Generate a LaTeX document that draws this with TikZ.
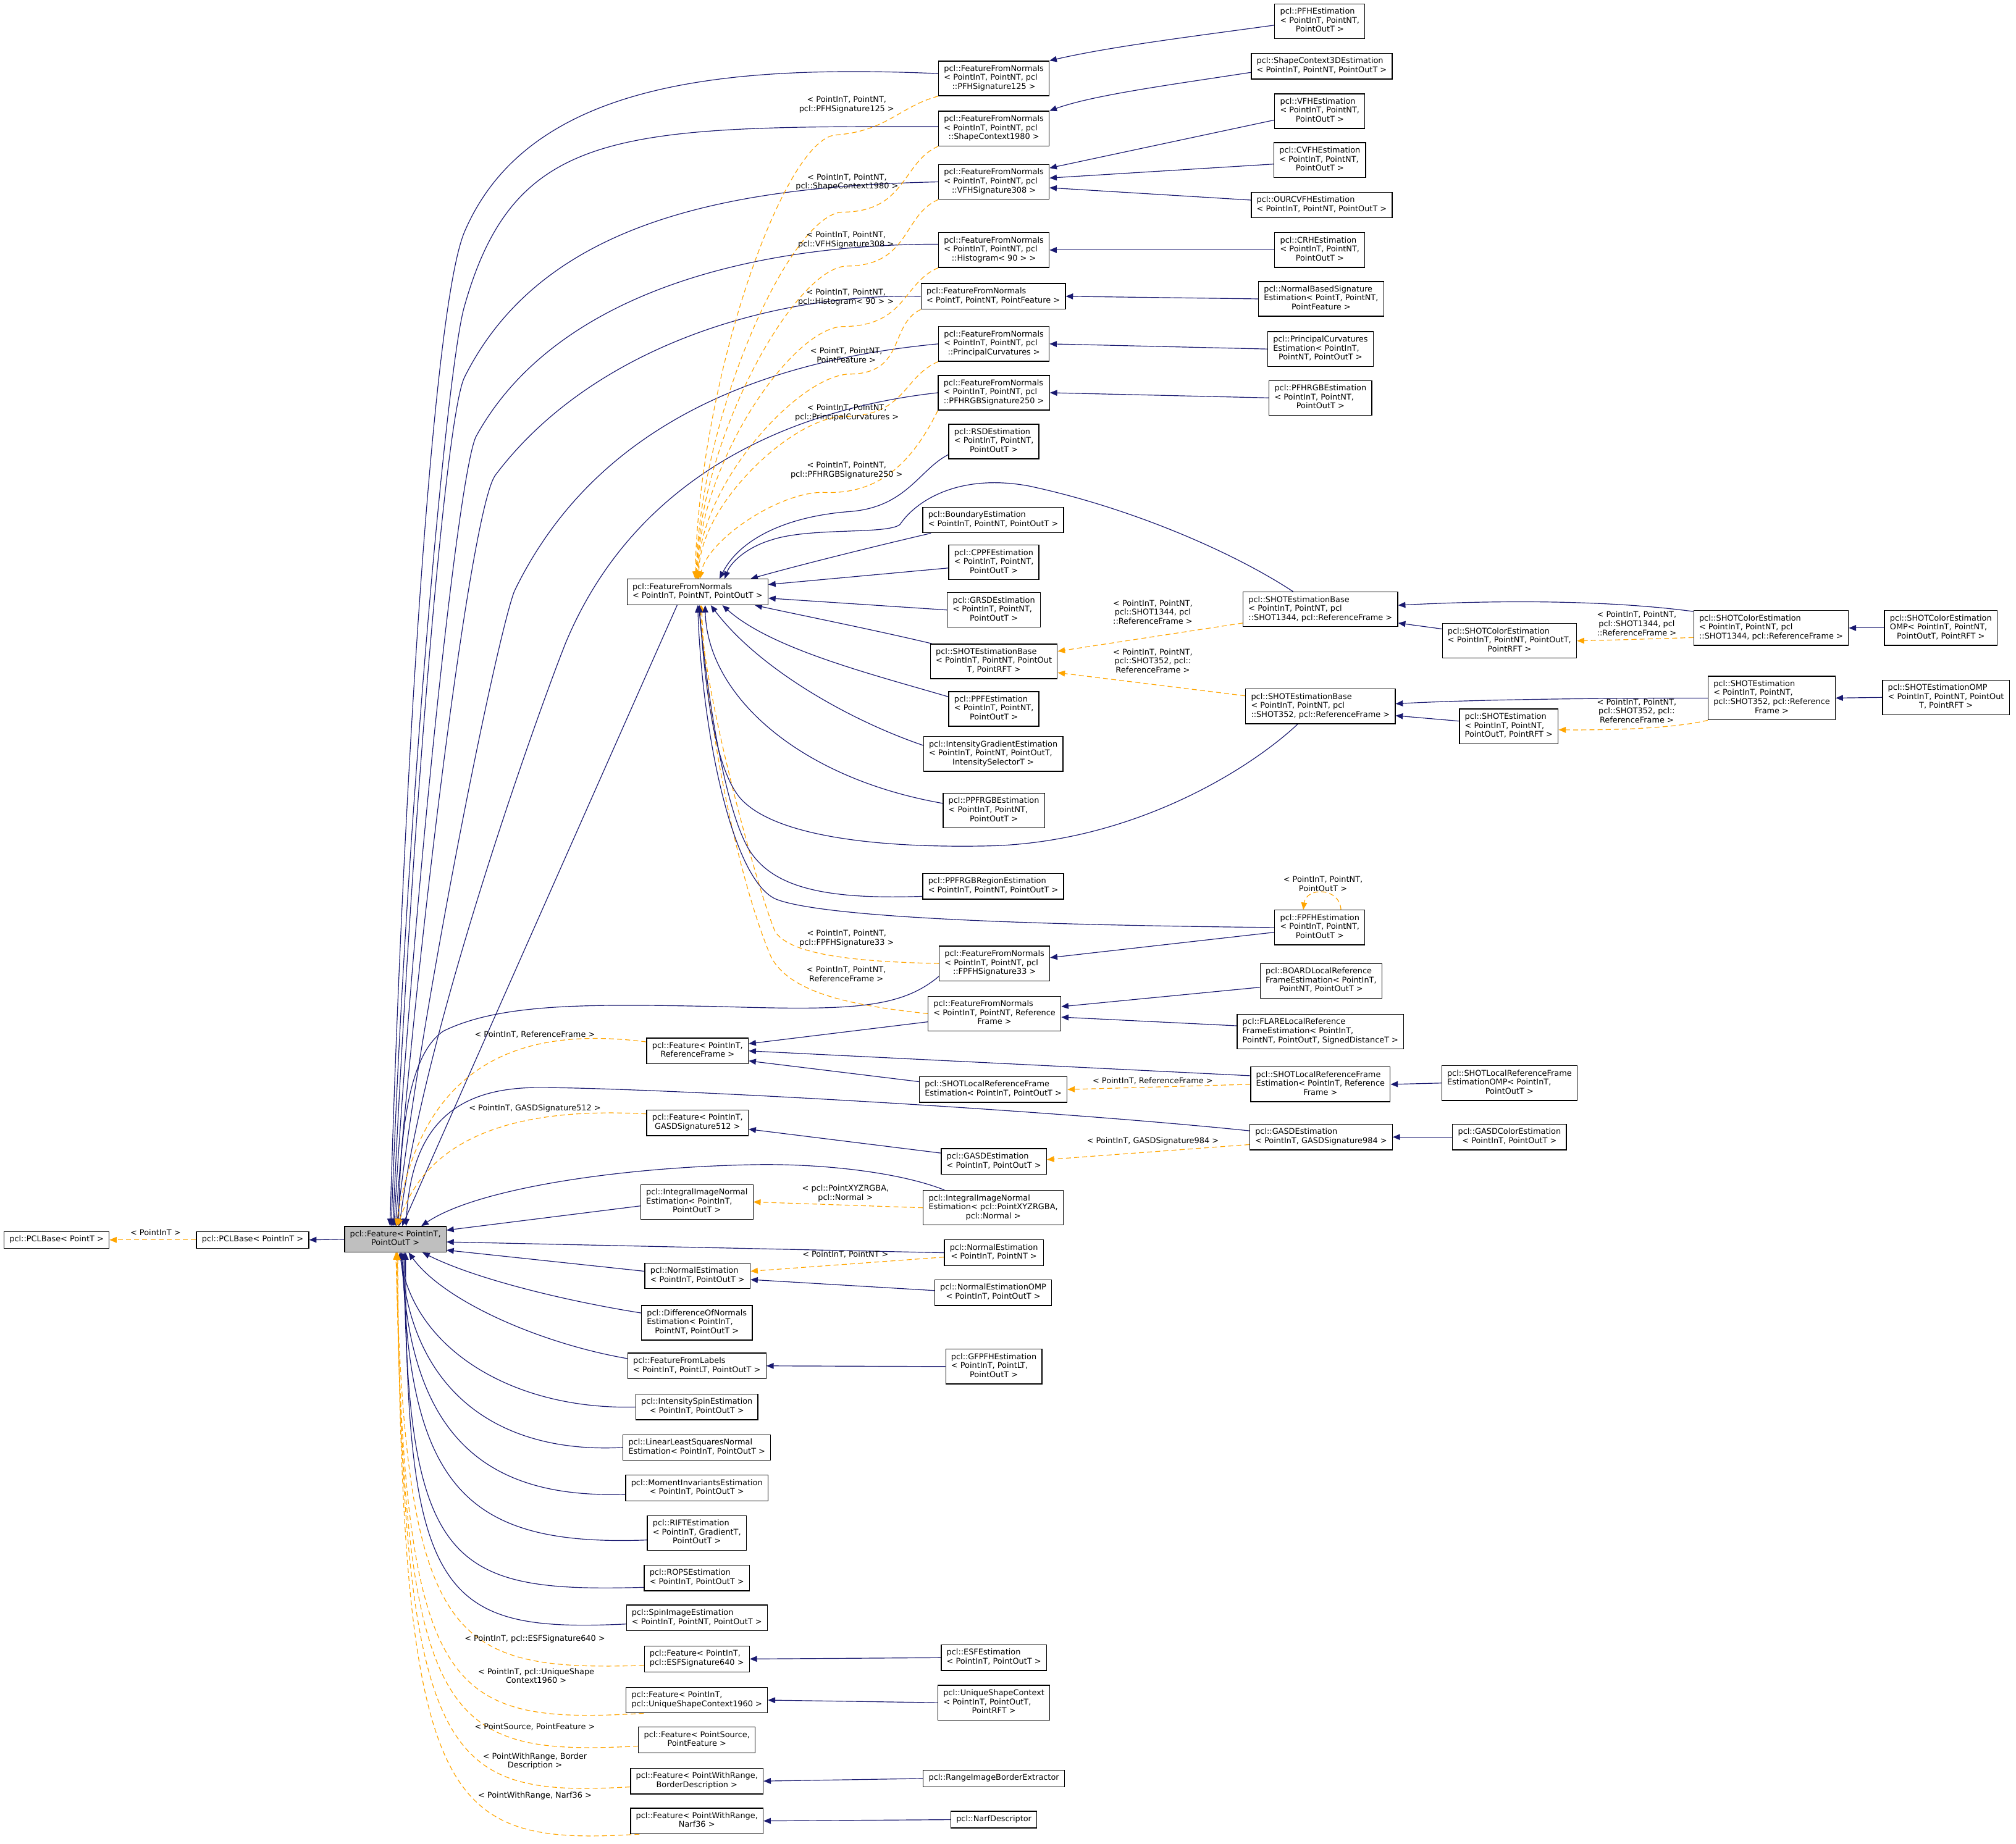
\documentclass[tikz,border=0pt]{standalone}
\usepackage{fontspec}
\setmainfont{DejaVu Sans}
\usetikzlibrary{arrows.meta,backgrounds}
\definecolor{edgeblue}{HTML}{191970}
\definecolor{tplorange}{HTML}{FFA500}
\definecolor{basegray}{HTML}{BFBFBF}
\newcommand{\dxfont}{\fontsize{8.8}{10}\selectfont}
\newcommand{\boxtxt}[2]{\begin{tabular}{@{}l@{}}#1\\\multicolumn{1}{@{}c@{}}{#2}\end{tabular}}
\newcommand{\boxone}[1]{\begin{tabular}{@{}c@{}}#1\end{tabular}}
\tikzset{
  klass/.style={draw=black, line width=0.9pt, fill=white, font=\dxfont, inner xsep=6pt, inner ysep=4.2pt},
  rootklass/.style={klass, fill=basegray},
  inh/.style={edgeblue, line width=0.8pt, -{Triangle[length=8pt,width=6.5pt]}},
  tpl/.style={tplorange, line width=0.8pt, dash pattern=on 5.5pt off 3.5pt, -{Triangle[length=8pt,width=6.5pt]}},
  targ/.style={font=\dxfont, align=center, inner sep=0pt}
}
\begin{document}
\begin{tikzpicture}[x=0.05cm,y=-0.05cm]
\useasboundingbox (0,0) rectangle (1568,1434);

% classes
\node[klass] (PCLBaseT) at (44,964.5) {\boxone{pcl::PCLBase< PointT >}};
\node[klass] (PCLBaseIn) at (196.5,964.5) {\boxone{pcl::PCLBase< PointInT >}};
\node[rootklass] (Feature) at (307.5,964) {\boxtxt{pcl::Feature< PointInT,}{PointOutT >}};

\node[klass] (FFN) at (542.5,460.5) {\boxtxt{pcl::FeatureFromNormals}{< PointInT, PointNT, PointOutT >}};
\node[klass] (FeatRF) at (542.5,817.5) {\boxtxt{pcl::Feature< PointInT,}{ReferenceFrame >}};
\node[klass] (FeatG512) at (542.5,873.5) {\boxtxt{pcl::Feature< PointInT,}{GASDSignature512 >}};
\node[klass] (IINE) at (542,935) {\boxtxt{pcl::IntegralImageNormal\\Estimation< PointInT,}{PointOutT >}};
\node[klass] (NE) at (542.5,992.5) {\boxtxt{pcl::NormalEstimation}{< PointInT, PointOutT >}};
\node[klass] (DoN) at (542,1029) {\boxtxt{pcl::DifferenceOfNormals\\Estimation< PointInT,}{PointNT, PointOutT >}};
\node[klass] (FFL) at (542,1062.5) {\boxtxt{pcl::FeatureFromLabels}{< PointInT, PointLT, PointOutT >}};
\node[klass] (ISE) at (542,1094.5) {\boxtxt{pcl::IntensitySpinEstimation}{< PointInT, PointOutT >}};
\node[klass] (LLSNE) at (542,1126) {\boxtxt{pcl::LinearLeastSquaresNormal}{Estimation< PointInT, PointOutT >}};
\node[klass] (MIE) at (542,1157.5) {\boxtxt{pcl::MomentInvariantsEstimation}{< PointInT, PointOutT >}};
\node[klass] (RIFT) at (542,1192.5) {\boxtxt{pcl::RIFTEstimation\\< PointInT, GradientT,}{PointOutT >}};
\node[klass] (ROPS) at (542,1227.5) {\boxtxt{pcl::ROPSEstimation}{< PointInT, PointOutT >}};
\node[klass] (SpinImg) at (542,1258.5) {\boxtxt{pcl::SpinImageEstimation}{< PointInT, PointNT, PointOutT >}};
\node[klass] (FeatESF) at (542,1290.5) {\boxtxt{pcl::Feature< PointInT,}{pcl::ESFSignature640 >}};
\node[klass] (FeatUSC) at (542,1322.5) {\boxtxt{pcl::Feature< PointInT,}{pcl::UniqueShapeContext1960 >}};
\node[klass] (FeatPS) at (542,1353.5) {\boxtxt{pcl::Feature< PointSource,}{PointFeature >}};
\node[klass] (FeatBD) at (542,1385.5) {\boxtxt{pcl::Feature< PointWithRange,}{BorderDescription >}};
\node[klass] (FeatNarf) at (542,1416.5) {\boxtxt{pcl::Feature< PointWithRange,}{Narf36 >}};

\node[klass] (FFNpfh) at (773,61) {\boxtxt{pcl::FeatureFromNormals\\< PointInT, PointNT, pcl}{::PFHSignature125 >}};
\node[klass] (FFNsc) at (773,100) {\boxtxt{pcl::FeatureFromNormals\\< PointInT, PointNT, pcl}{::ShapeContext1980 >}};
\node[klass] (FFNvfh) at (773,141.5) {\boxtxt{pcl::FeatureFromNormals\\< PointInT, PointNT, pcl}{::VFHSignature308 >}};
\node[klass] (FFNhist) at (773,194.5) {\boxtxt{pcl::FeatureFromNormals\\< PointInT, PointNT, pcl}{::Histogram< 90 > >}};
\node[klass] (FFNpf) at (772.5,230.5) {\boxtxt{pcl::FeatureFromNormals}{< PointT, PointNT, PointFeature >}};
\node[klass] (FFNpc) at (773,267.5) {\boxtxt{pcl::FeatureFromNormals\\< PointInT, PointNT, pcl}{::PrincipalCurvatures >}};
\node[klass] (FFNrgb) at (773,305.5) {\boxtxt{pcl::FeatureFromNormals\\< PointInT, PointNT, pcl}{::PFHRGBSignature250 >}};
\node[klass] (RSD) at (773,343.5) {\boxtxt{pcl::RSDEstimation\\< PointInT, PointNT,}{PointOutT >}};
\node[klass] (Boundary) at (772.5,404.5) {\boxtxt{pcl::BoundaryEstimation}{< PointInT, PointNT, PointOutT >}};
\node[klass] (CPPF) at (773,437.5) {\boxtxt{pcl::CPPFEstimation\\< PointInT, PointNT,}{PointOutT >}};
\node[klass] (GRSD) at (773,474.5) {\boxtxt{pcl::GRSDEstimation\\< PointInT, PointNT,}{PointOutT >}};
\node[klass] (SHOTBase) at (773,514.5) {\boxtxt{pcl::SHOTEstimationBase\\< PointInT, PointNT, PointOut}{T, PointRFT >}};
\node[klass] (PPF) at (773,551.5) {\boxtxt{pcl::PPFEstimation\\< PointInT, PointNT,}{PointOutT >}};
\node[klass] (IGE) at (772.5,586.5) {\boxtxt{pcl::IntensityGradientEstimation\\< PointInT, PointNT, PointOutT,}{IntensitySelectorT >}};
\node[klass] (PPFRGB) at (773,630.5) {\boxtxt{pcl::PPFRGBEstimation\\< PointInT, PointNT,}{PointOutT >}};
\node[klass] (PPFRGBReg) at (772.5,689.5) {\boxtxt{pcl::PPFRGBRegionEstimation}{< PointInT, PointNT, PointOutT >}};
\node[klass] (FFNfpfh) at (773.5,749.5) {\boxtxt{pcl::FeatureFromNormals\\< PointInT, PointNT, pcl}{::FPFHSignature33 >}};
\node[klass] (FFNrf) at (773.5,788.5) {\boxtxt{pcl::FeatureFromNormals\\< PointInT, PointNT, Reference}{Frame >}};
\node[klass] (SHOTLRF) at (772.5,847.5) {\boxtxt{pcl::SHOTLocalReferenceFrame}{Estimation< PointInT, PointOutT >}};
\node[klass] (GASD) at (773,903.5) {\boxtxt{pcl::GASDEstimation}{< PointInT, PointOutT >}};
\node[klass] (IINErgba) at (772.5,939.5) {\boxtxt{pcl::IntegralImageNormal\\Estimation< pcl::PointXYZRGBA,}{pcl::Normal >}};
\node[klass] (NEnt) at (773,974.5) {\boxtxt{pcl::NormalEstimation}{< PointInT, PointNT >}};
\node[klass] (NEomp) at (772.5,1005.5) {\boxtxt{pcl::NormalEstimationOMP}{< PointInT, PointOutT >}};
\node[klass] (GFPFH) at (773,1063) {\boxtxt{pcl::GFPFHEstimation\\< PointInT, PointLT,}{PointOutT >}};
\node[klass] (ESF) at (773,1289.5) {\boxtxt{pcl::ESFEstimation}{< PointInT, PointOutT >}};
\node[klass] (USC) at (773,1324.5) {\boxtxt{pcl::UniqueShapeContext\\< PointInT, PointOutT,}{PointRFT >}};
\node[klass] (RIBE) at (773,1383.5) {\boxone{pcl::RangeImageBorderExtractor}};
\node[klass] (Narf) at (773,1415.5) {\boxone{pcl::NarfDescriptor}};

\node[klass] (PFH) at (1026.5,16.5) {\boxtxt{pcl::PFHEstimation\\< PointInT, PointNT,}{PointOutT >}};
\node[klass] (SC3D) at (1028,51.5) {\boxtxt{pcl::ShapeContext3DEstimation}{< PointInT, PointNT, PointOutT >}};
\node[klass] (VFH) at (1026.5,86.5) {\boxtxt{pcl::VFHEstimation\\< PointInT, PointNT,}{PointOutT >}};
\node[klass] (CVFH) at (1026.5,124.5) {\boxtxt{pcl::CVFHEstimation\\< PointInT, PointNT,}{PointOutT >}};
\node[klass] (OURCVFH) at (1028,159.5) {\boxtxt{pcl::OURCVFHEstimation}{< PointInT, PointNT, PointOutT >}};
\node[klass] (CRH) at (1026.5,194.5) {\boxtxt{pcl::CRHEstimation\\< PointInT, PointNT,}{PointOutT >}};
\node[klass] (NBS) at (1027.5,232.5) {\boxtxt{pcl::NormalBasedSignature\\Estimation< PointT, PointNT,}{PointFeature >}};
\node[klass] (PCE) at (1027,271.5) {\boxtxt{pcl::PrincipalCurvatures\\Estimation< PointInT,}{PointNT, PointOutT >}};
\node[klass] (PFHRGB) at (1027,309.5) {\boxtxt{pcl::PFHRGBEstimation\\< PointInT, PointNT,}{PointOutT >}};
\node[klass] (SHOTB1344) at (1027,474) {\boxtxt{pcl::SHOTEstimationBase\\< PointInT, PointNT, pcl}{::SHOT1344, pcl::ReferenceFrame >}};
\node[klass] (SHOTB352) at (1027,549.5) {\boxtxt{pcl::SHOTEstimationBase\\< PointInT, PointNT, pcl}{::SHOT352, pcl::ReferenceFrame >}};
\node[klass] (FPFH) at (1026.5,721.5) {\boxtxt{pcl::FPFHEstimation\\< PointInT, PointNT,}{PointOutT >}};
\node[klass] (BOARD) at (1027.5,763) {\boxtxt{pcl::BOARDLocalReference\\FrameEstimation< PointInT,}{PointNT, PointOutT >}};
\node[klass] (FLARE) at (1027,802.5) {\boxtxt{pcl::FLARELocalReference\\FrameEstimation< PointInT,}{PointNT, PointOutT, SignedDistanceT >}};
\node[klass] (SHOTLRFrf) at (1027,843.5) {\boxtxt{pcl::SHOTLocalReferenceFrame\\Estimation< PointInT, Reference}{Frame >}};
\node[klass] (GASD984) at (1027.5,884.5) {\boxtxt{pcl::GASDEstimation}{< PointInT, GASDSignature984 >}};

\node[klass] (SHOTColor) at (1174,498.5) {\boxtxt{pcl::SHOTColorEstimation\\< PointInT, PointNT, PointOutT,}{PointRFT >}};
\node[klass] (SHOTEst) at (1173.5,565) {\boxtxt{pcl::SHOTEstimation\\< PointInT, PointNT,}{PointOutT, PointRFT >}};
\node[klass] (SHOTLRFomp) at (1174,842.5) {\boxtxt{pcl::SHOTLocalReferenceFrame\\EstimationOMP< PointInT,}{PointOutT >}};
\node[klass] (GASDColor) at (1174,884.5) {\boxtxt{pcl::GASDColorEstimation}{< PointInT, PointOutT >}};
\node[klass] (SHOTC1344) at (1377.5,488.5) {\boxtxt{pcl::SHOTColorEstimation\\< PointInT, PointNT, pcl}{::SHOT1344, pcl::ReferenceFrame >}};
\node[klass] (SHOT352) at (1378,543) {\boxtxt{pcl::SHOTEstimation\\< PointInT, PointNT,\\pcl::SHOT352, pcl::Reference}{Frame >}};
\node[klass] (SHOTComp) at (1509.5,488.5) {\boxtxt{pcl::SHOTColorEstimation\\OMP< PointInT, PointNT,}{PointOutT, PointRFT >}};
\node[klass] (SHOTomp) at (1513.5,542.5) {\boxtxt{pcl::SHOTEstimationOMP\\< PointInT, PointNT, PointOut}{T, PointRFT >}};

% template arguments
\node[targ] (aPCL) at (121,958.5) {< PointInT >};
\node[targ] (aPFH) at (658.5,81.5) {< PointInT, PointNT,\\pcl::PFHSignature125 >};
\node[targ] (aSC) at (658.8,141.7) {< PointInT, PointNT,\\pcl::ShapeContext1980 >};
\node[targ] (aVFH) at (658,186.5) {< PointInT, PointNT,\\pcl::VFHSignature308 >};
\node[targ] (aHist) at (658,231.3) {< PointInT, PointNT,\\pcl::Histogram< 90 > >};
\node[targ] (aPF) at (658.2,276.2) {< PointT, PointNT,\\PointFeature >};
\node[targ] (aPC) at (658.7,321) {< PointInT, PointNT,\\pcl::PrincipalCurvatures >};
\node[targ] (aRGB) at (658.5,365.8) {< PointInT, PointNT,\\pcl::PFHRGBSignature250 >};
\node[targ] (aB1344) at (896.6,476) {< PointInT, PointNT,\\pcl::SHOT1344, pcl\\::ReferenceFrame >};
\node[targ] (aB352) at (896.6,514) {< PointInT, PointNT,\\pcl::SHOT352, pcl::\\ReferenceFrame >};
\node[targ] (aC1344) at (1273,485) {< PointInT, PointNT,\\pcl::SHOT1344, pcl\\::ReferenceFrame >};
\node[targ] (aS352) at (1273,553) {< PointInT, PointNT,\\pcl::SHOT352, pcl::\\ReferenceFrame >};
\node[targ] (aLoop) at (1029,687.5) {< PointInT, PointNT,\\PointOutT >};
\node[targ] (aFPFH) at (658.5,729.8) {< PointInT, PointNT,\\pcl::FPFHSignature33 >};
\node[targ] (aFRF) at (658.2,757.6) {< PointInT, PointNT,\\ReferenceFrame >};
\node[targ] (aRF) at (416,804.6) {< PointInT, ReferenceFrame >};
\node[targ] (aLRF) at (896.6,841) {< PointInT, ReferenceFrame >};
\node[targ] (aG512) at (416,862.5) {< PointInT, GASDSignature512 >};
\node[targ] (aG984) at (896.6,887.7) {< PointInT, GASDSignature984 >};
\node[targ] (aRGBA) at (657.6,928.2) {< pcl::PointXYZRGBA,\\pcl::Normal >};
\node[targ] (aNT) at (657.6,976) {< PointInT, PointNT >};
\node[targ] (aESF) at (416,1275) {< PointInT, pcl::ESFSignature640 >};
\node[targ] (aUSC) at (417,1303.6) {< PointInT, pcl::UniqueShape\\Context1960 >};
\node[targ] (aPS) at (416,1343.4) {< PointSource, PointFeature >};
\node[targ] (aBD) at (416,1370) {< PointWithRange, Border\\Description >};
\node[targ] (aNarf) at (416,1397) {< PointWithRange, Narf36 >};

\begin{scope}[on background layer]
\fill[white] (0,0) rectangle (1568,1434);
\draw[tpl] (PCLBaseIn.west) -- (PCLBaseT.east);
\draw[inh] (Feature.west) -- (PCLBaseIn.east);

% into Feature, from above
\draw[inh] (FFNpfh.175) .. controls (560,50) and (410,65) .. (361,181) .. controls (335,245) and (312,650) .. (Feature.112);
\draw[inh] (FFNsc.178) .. controls (480,98) and (400,100) .. (361,239) .. controls (347,289) and (315,650) .. (Feature.107);
\draw[inh] (FFNvfh.west) .. controls (560,145) and (420,175) .. (361,294) .. controls (345,330) and (318,680) .. (Feature.101);
\draw[inh] (FFNhist.174) .. controls (580,190) and (430,230) .. (370,340) .. controls (355,375) and (320,720) .. (Feature.96);
\draw[inh] (FFNpf.west) .. controls (600,228) and (460,270) .. (385,370) .. controls (365,400) and (322,760) .. (Feature.90);
\draw[inh] (FFNpc.west) .. controls (620,278) and (470,315) .. (400,460) .. controls (385,500) and (325,800) .. (Feature.84);
\draw[inh] (FFNrgb.west) .. controls (600,320) and (490,380) .. (440,500) .. controls (420,550) and (330,800) .. (Feature.73);
\draw[inh] (FFN.213) -- (Feature.63);
\draw[inh] (FFNfpfh.193) .. controls (700,785) and (660,786) .. (560,783) .. controls (460,781) and (390,780) .. (345,802) .. controls (318,820) and (311,880) .. (Feature.76);
\draw[inh] (GASD984.175) .. controls (800,862) and (500,846) .. (419,846) .. controls (360,846) and (320,870) .. (Feature.51);
\draw[inh] (IINErgba.160) .. controls (700,912) and (640,905) .. (586,906) .. controls (480,908) and (370,925) .. (Feature.27);
\draw[tpl] (FeatRF.170) .. controls (420,800) and (330,815) .. (Feature.86);
\draw[tpl] (FeatG512.170) .. controls (420,862) and (335,875) .. (Feature.80);

% into Feature, from the right and below
\draw[inh] (IINE.184) -- (Feature.10);
\draw[inh] (NEnt.west) -- (Feature.357);
\draw[inh] (NE.175) -- (Feature.348);
\draw[inh] (DoN.170) .. controls (440,1012) and (370,995) .. (Feature.334);
\draw[inh] (FFL.174) .. controls (420,1045) and (345,1012) .. (Feature.315);
\draw[inh] (ISE.west) .. controls (400,1097) and (322,1050) .. (Feature.288);
\draw[inh] (LLSNE.west) .. controls (390,1131) and (320,1085) .. (Feature.292);
\draw[inh] (MIE.185) .. controls (380,1166) and (318,1120) .. (Feature.296);
\draw[inh] (RIFT.188) .. controls (365,1203) and (317,1160) .. (Feature.300);
\draw[inh] (ROPS.190) .. controls (350,1239) and (316,1220) .. (Feature.304);
\draw[inh] (SpinImg.185) .. controls (345,1270) and (315,1245) .. (Feature.308);
\draw[tpl] (FeatESF.187) .. controls (350,1300) and (316,1280) .. (Feature.272);
\draw[tpl] (FeatUSC.194) .. controls (345,1342) and (314,1320) .. (Feature.274);
\draw[tpl] (FeatPS.186) .. controls (345,1366) and (313,1345) .. (Feature.276);
\draw[tpl] (FeatBD.185) .. controls (345,1398) and (313,1375) .. (Feature.278);
\draw[tpl] (FeatNarf.193) .. controls (345,1436) and (312,1410) .. (Feature.280);

% into FeatureFromNormals
\draw[tpl] (FFNpfh.south west) .. controls +(-30,8) and +(40,-3) .. (650,105) .. controls +(-40,3) and +(3,-156) .. (FFN.100);
\draw[tpl] (FFNsc.south west) .. controls +(-28,12) and +(50,0) .. (655,165) .. controls +(-40,2) and +(3,-129) .. (FFN.96);
\draw[tpl] (FFNvfh.south west) .. controls +(-28,12) and +(50,0) .. (658,207) .. controls +(-40,2) and +(2,-110) .. (FFN.93);
\draw[tpl] (FFNhist.south west) .. controls +(-28,12) and +(50,0) .. (655,254) .. controls +(-40,2) and +(1,-89) .. (FFN.90);
\draw[tpl] (FFNpf.south west) .. controls +(-25,12) and +(45,0) .. (660,291) .. controls +(-40,2) and +(0,-72) .. (FFN.87);
\draw[tpl] (FFNpc.south west) .. controls +(-28,12) and +(50,0) .. (655,324) .. controls +(-40,2) and +(0,-57) .. (FFN.84);
\draw[tpl] (FFNrgb.south west) .. controls +(-22,45) and +(40,2) .. (640,383) .. controls +(-35,0) and +(6,-30) .. (FFN.80);
\draw[tpl] (FFNfpfh.west) .. controls (660,748) and (615,742) .. (603,725) .. controls (590,695) and (547,540) .. (FFN.283);
\draw[tpl] (FFNrf.west) .. controls (660,782) and (615,772) .. (600,745) .. controls (580,700) and (550,580) .. (FFN.287);
\draw[inh] (RSD.196) .. controls (715,365) and (705,395) .. (660,398) .. controls (610,402) and (575,420) .. (FFN.31);
\draw[inh] (SHOTB1344.147) .. controls (960,430) and (880,395) .. (800,378) .. controls (745,368) and (712,390) .. (700,408) .. controls (690,416) and (630,410) .. (600,420) .. controls (580,426) and (568,438) .. (FFN.26);
\draw[inh] (Boundary.192) .. controls (680,425) and (620,440) .. (FFN.14);
\draw[inh] (CPPF.187) -- (FFN.6);
\draw[inh] (GRSD.west) -- (FFN.355);
\draw[inh] (SHOTBase.164) .. controls (680,490) and (620,478) .. (FFN.347);
\draw[inh] (PPF.165) .. controls (680,525) and (600,505) .. (FFN.332);
\draw[inh] (IGE.173) .. controls (660,560) and (590,520) .. (FFN.315);
\draw[inh] (PPFRGB.172) .. controls (620,605) and (550,540) .. (FFN.300);
\draw[inh] (SHOTB352.218) .. controls (970,600) and (880,655) .. (770,658) .. controls (680,660) and (600,650) .. (575,620) .. controls (555,595) and (548,530) .. (FFN.278);
\draw[inh] (PPFRGBReg.188) .. controls (640,700) and (600,690) .. (582,660) .. controls (562,625) and (549,530) .. (FFN.275);
\draw[inh] (FPFH.west) .. controls (850,720) and (650,716) .. (605,700) .. controls (570,688) and (546,570) .. (FFN.271);

% third column into second
\draw[inh] (PFH.185) .. controls (930,28) and (865,36) .. (FFNpfh.north east);
\draw[inh] (SC3D.185) .. controls (910,66) and (850,74) .. (FFNsc.north east);
\draw[inh] (VFH.191) -- (FFNvfh.14);
\draw[inh] (CVFH.185) -- (FFNvfh.4);
\draw[inh] (OURCVFH.176) -- (FFNvfh.354);
\draw[inh] (CRH.west) -- (FFNhist.east);
\draw[inh] (NBS.west) -- (FFNpf.east);
\draw[inh] (PCE.west) -- (FFNpc.east);
\draw[inh] (PFHRGB.west) -- (FFNrgb.east);
\draw[tpl] (SHOTB1344.190) -- (SHOTBase.9);
\draw[tpl] (SHOTB352.172) -- (SHOTBase.350);
\draw[inh] (FPFH.186) -- (FFNfpfh.6);
\draw[tpl] (FPFH.40) .. controls (1042,690) and (1016,690) .. (FPFH.133);
\draw[inh] (BOARD.186) -- (FFNrf.6);
\draw[inh] (FLARE.176) -- (FFNrf.357);
\draw[inh] (FFNrf.187) -- (FeatRF.8);
\draw[inh] (SHOTLRFrf.173) -- (FeatRF.east);
\draw[inh] (SHOTLRF.174) -- (FeatRF.349);
\draw[tpl] (SHOTLRFrf.west) -- (SHOTLRF.east);
\draw[inh] (GASD.171) -- (FeatG512.353);
\draw[tpl] (GASD984.186) -- (GASD.2);
\draw[tpl] (IINErgba.west) -- (IINE.east);
\draw[tpl] (NEnt.185) -- (NE.5);
\draw[inh] (NEomp.178) -- (NE.356);
\draw[inh] (GFPFH.west) -- (FFL.east);
\draw[inh] (ESF.west) -- (FeatESF.east);
\draw[inh] (USC.west) -- (FeatUSC.east);
\draw[inh] (RIBE.west) -- (FeatBD.east);
\draw[inh] (Narf.west) -- (FeatNarf.east);

% SHOT family
\draw[inh] (SHOTColor.170) -- (SHOTB1344.350);
\draw[inh] (SHOTC1344.168) .. controls (1260,468) and (1180,466) .. (SHOTB1344.3);
\draw[tpl] (SHOTC1344.187) .. controls (1285,497) and (1250,498) .. (SHOTColor.east);
\draw[inh] (SHOTComp.west) -- (SHOTC1344.east);
\draw[inh] (SHOT352.west) .. controls (1250,543) and (1150,544) .. (SHOTB352.2);
\draw[inh] (SHOTEst.174) -- (SHOTB352.353);
\draw[tpl] (SHOT352.south west) .. controls (1300,567) and (1250,568) .. (SHOTEst.356);
\draw[inh] (SHOTomp.west) -- (SHOT352.east);
\draw[inh] (SHOTLRFomp.west) -- (SHOTLRFrf.east);
\draw[inh] (GASDColor.west) -- (GASD984.east);
\end{scope}
\end{tikzpicture}
\end{document}
